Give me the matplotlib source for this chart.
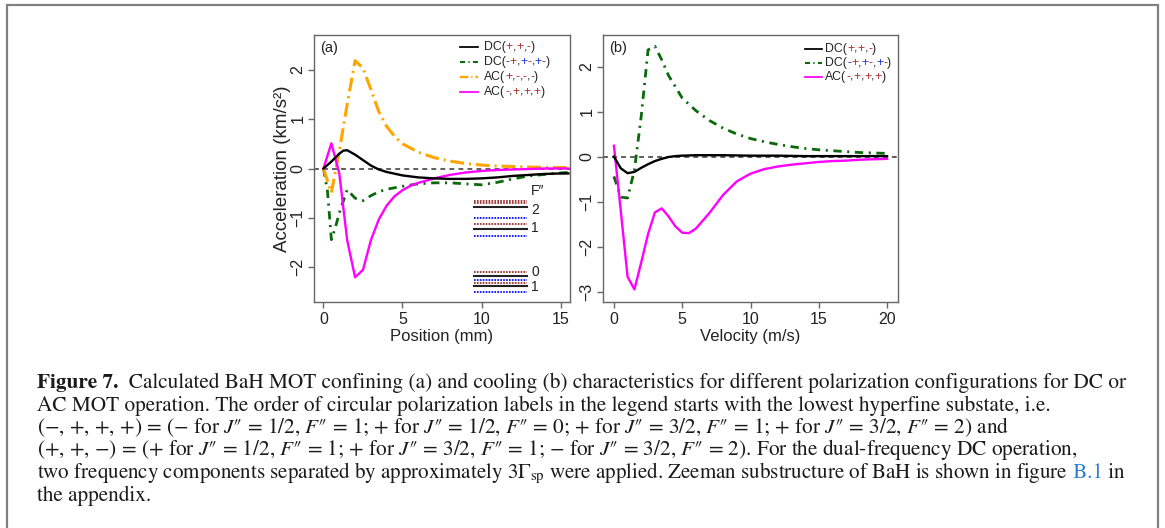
import matplotlib
matplotlib.use('Agg')
import matplotlib.pyplot as plt
from matplotlib.patches import Rectangle

# ---------------- data ----------------
# Panel (a): acceleration vs position
pos_dc1 = [0, 0.5, 1.0, 1.25, 1.5, 2, 2.5, 3, 3.5, 4, 5, 6, 7, 8, 9, 10, 11, 12, 13, 14, 15, 15.5]
acc_dc1 = [0, 0.14, 0.3, 0.36, 0.37, 0.28, 0.17, 0.06, -0.02, -0.07, -0.14, -0.18, -0.2, -0.21, -0.21, -0.2, -0.18, -0.15, -0.13, -0.11, -0.1, -0.1]

pos_dc2 = [0, 0.25, 0.5, 0.75, 1.0, 1.5, 2.0, 2.5, 3, 3.5, 4, 5, 6, 7, 8, 9, 10, 11, 12, 13, 14, 15, 15.5]
acc_dc2 = [0, -0.45, -1.44, -1.2, -0.9, -0.43, -0.6, -0.65, -0.55, -0.47, -0.42, -0.36, -0.31, -0.29, -0.29, -0.31, -0.33, -0.28, -0.21, -0.15, -0.12, -0.09, -0.08]

pos_ac1 = [0, 0.5, 1.0, 1.5, 2.0, 2.5, 3, 3.5, 4, 4.5, 5, 6, 7, 8, 9, 10, 11, 12, 13, 14, 15, 15.5]
acc_ac1 = [0, -0.49, 0.35, 1.3, 2.18, 2.03, 1.6, 1.15, 0.85, 0.65, 0.5, 0.33, 0.22, 0.15, 0.1, 0.07, 0.05, 0.04, 0.03, 0.02, 0.02, 0.02]

pos_ac2 = [0, 0.5, 1.0, 1.5, 2.0, 2.5, 3, 3.5, 4, 4.5, 5, 5.5, 6, 7, 8, 9, 10, 11, 12, 13, 14, 15, 15.5]
acc_ac2 = [0, 0.51, -0.1, -1.45, -2.2, -2.05, -1.45, -1.03, -0.75, -0.56, -0.44, -0.35, -0.29, -0.2, -0.13, -0.08, -0.05, -0.03, -0.02, -0.01, 0, 0, 0]

# Panel (b): acceleration vs velocity
vel_dc1 = [0, 0.5, 1.0, 1.5, 2, 2.5, 3, 3.5, 4, 4.5, 5, 6, 7, 8, 10, 12, 14, 16, 18, 20]
accv_dc1 = [0, -0.26, -0.37, -0.34, -0.25, -0.17, -0.1, -0.05, -0.01, 0.01, 0.02, 0.03, 0.03, 0.03, 0.02, 0.02, 0.01, 0.01, 0.01, 0.01]

vel_dc2 = [0, 0.5, 1.0, 1.5, 2, 2.5, 3, 3.5, 4, 5, 6, 7, 8, 9, 10, 11, 12, 13, 14, 15, 16, 17, 18, 19, 20]
accv_dc2 = [-0.44, -0.9, -0.92, -0.3, 0.9, 2.37, 2.45, 2.15, 1.8, 1.3, 1.02, 0.8, 0.63, 0.5, 0.4, 0.33, 0.27, 0.22, 0.18, 0.15, 0.13, 0.11, 0.09, 0.08, 0.07]

vel_ac2 = [0, 0.5, 1.0, 1.5, 2, 2.5, 3, 3.5, 4, 4.5, 5, 5.5, 6, 7, 8, 9, 10, 11, 12, 13, 14, 15, 16, 17, 18, 19, 20]
accv_ac2 = [0.24, -1.2, -2.67, -2.95, -2.35, -1.72, -1.24, -1.15, -1.33, -1.55, -1.69, -1.7, -1.6, -1.25, -0.85, -0.55, -0.38, -0.28, -0.22, -0.18, -0.15, -0.12, -0.1, -0.09, -0.07, -0.06, -0.05]

# Hyperfine / Zeeman level sketch (inset of panel a)
level_y = [-0.66, -0.70, -0.775, -1.0, -1.13, -1.22, -1.36,
           -2.09, -2.18, -2.25, -2.31, -2.38, -2.50]
level_kind = ['r', 'r', 'k', 'b', 'r', 'k', 'b',
              'r', 'k', 'b', 'r', 'k', 'b']
level_labels = ["F\u2033", '2', '1', '0', '1']
level_label_y = [-0.445, -0.83, -1.2, -2.1, -2.4]

xticks_a = [0, 5, 10, 15]
yticks_a = [-2, -1, 0, 1, 2]
xticks_b = [0, 5, 10, 15, 20]
yticks_b = [-3, -2, -1, 0, 1, 2]

legend_a = [
    ('k', [('DC(', 'k'), ('+', 'r'), (',', 'k'), ('+', 'r'), (',', 'k'), ('-', 'r'), (')', 'k')]),
    ('g', [('DC(', 'k'), ('-', 'b'), ('+', 'r'), (',', 'k'), ('+', 'b'), ('-', 'r'), (',', 'k'), ('+', 'b'), ('-', 'r'), (')', 'k')]),
    ('o', [('AC(', 'k'), ('+', 'r'), (',', 'k'), ('-', 'r'), (',', 'k'), ('-', 'r'), (',', 'k'), ('-', 'r'), (')', 'k')]),
    ('m', [('AC(', 'k'), ('-', 'r'), (',', 'k'), ('+', 'r'), (',', 'k'), ('+', 'r'), (',', 'k'), ('+', 'r'), (')', 'k')]),
]
legend_b = [legend_a[0], legend_a[1], legend_a[3]]

# ---------------- styles ----------------
plt.rcParams['font.family'] = ['Liberation Sans', 'DejaVu Sans']
plt.rcParams['lines.scale_dashes'] = False

W, H = 1165, 528
C_RED = '#b03030'
C_BLUE = '#2233dd'
C_LVL_R = '#9a3b3b'
TXT = {'k': '#222222', 'r': C_RED, 'b': C_BLUE}
STY = {
    'k': dict(color='black', lw=1.7, ls='-'),
    'g': dict(color='#0a6a0a', lw=2.0, dashes=(6, 4, 1.5, 4)),
    'o': dict(color='#ffa500', lw=2.2, dashes=(10, 3.5, 1.5, 3.5)),
    'm': dict(color='#ff00ff', lw=1.7, ls='-'),
}
SPINE = '#666666'

fig = plt.figure(figsize=(W / 100, H / 100), dpi=100)

# outer frame
fig.patches.append(Rectangle((7 / W, -0.02), (1158 - 7) / W, 1 - 4.5 / H + 0.02,
                             transform=fig.transFigure, fill=False,
                             edgecolor='#808080', lw=1.6))

ax_a = fig.add_axes([314 / W, 1 - 302 / H, 256 / W, 267 / H])
ax_b = fig.add_axes([603 / W, 1 - 302 / H, 295 / W, 267 / H])


def style_axes(ax):
    for s in ax.spines.values():
        s.set_color(SPINE)
        s.set_linewidth(1.0)
    ax.tick_params(direction='out', length=4.5, width=1.0, color=SPINE,
                   labelsize=11.5, pad=3, labelcolor='#222222')
    ax.tick_params(axis='y', labelrotation=90, pad=1.5)
    for lab in ax.get_yticklabels():
        lab.set_va('center')


def zero_line(ax):
    ax.axhline(0, color='#333333', lw=1.1, dashes=(3.5, 3.0), zorder=1)


def rainbow(ax, x, y, parts, fs=8.8):
    t = ax.text(x, y, parts[0][0], color=TXT[parts[0][1]], transform=ax.transAxes,
                fontsize=fs, va='center', ha='left')
    for s, c in parts[1:]:
        t = ax.annotate(s, xy=(1, 0), xycoords=t, va='bottom', ha='left',
                        color=TXT[c], fontsize=fs)


def legend(ax, entries, x0, x1, xt, ys):
    for (key, parts), y in zip(entries, ys):
        st = dict(STY[key])
        st['lw'] = st['lw'] * 0.75
        if 'dashes' in st:
            st['dashes'] = tuple(d * 0.6 for d in st['dashes'])
        ax.plot([x0, x1], [y, y], transform=ax.transAxes, clip_on=False, **st)
        rainbow(ax, xt, y, parts)


# ----- panel a -----
zero_line(ax_a)
ax_a.plot(pos_dc2, acc_dc2, **STY['g'])
ax_a.plot(pos_ac1, acc_ac1, **STY['o'])
ax_a.plot(pos_ac2, acc_ac2, **STY['m'])
ax_a.plot(pos_dc1, acc_dc1, **STY['k'])
ax_a.set_xlim(-0.6, 15.6)
ax_a.set_ylim(-2.7, 2.7)
ax_a.set_xticks(xticks_a)
ax_a.set_yticks(yticks_a)
style_axes(ax_a)
ax_a.set_xlabel('Position (mm)', fontsize=12, labelpad=1, color='#222222')
ax_a.set_ylabel('Acceleration (km/s²)', fontsize=13.5, labelpad=0, color='#222222')
ax_a.text(0.024, 0.953, '(a)', transform=ax_a.transAxes, fontsize=10.5, va='center', ha='left',
          color='#222222')

lvl_x0, lvl_x1 = 9.54, 12.9
for yv, kind in zip(level_y, level_kind):
    if kind == 'k':
        ax_a.plot([lvl_x0, lvl_x1], [yv, yv], color='#222222', lw=1.5)
    elif kind == 'r':
        ax_a.plot([lvl_x0, lvl_x1], [yv, yv], color=C_LVL_R, lw=1.4, dashes=(1.2, 0.9))
    else:
        ax_a.plot([lvl_x0, lvl_x1], [yv, yv], color='#1a1aff', lw=1.4, dashes=(1.2, 0.9))
for lab, yv in zip(level_labels, level_label_y):
    ax_a.text(13.15, yv, lab, fontsize=10, va='center', ha='left', color='#222222')

legend(ax_a, legend_a, 0.570, 0.641, 0.664, [0.955, 0.899, 0.843, 0.787])

# ----- panel b -----
zero_line(ax_b)
ax_b.plot(vel_dc2, accv_dc2, **STY['g'])
ax_b.plot(vel_ac2, accv_ac2, **STY['m'])
ax_b.plot(vel_dc1, accv_dc1, **STY['k'])
ax_b.set_xlim(-0.8, 20.8)
ax_b.set_ylim(-3.23, 2.70)
ax_b.set_xticks(xticks_b)
ax_b.set_yticks(yticks_b)
style_axes(ax_b)
ax_b.set_xlabel('Velocity (m/s)', fontsize=12, labelpad=1, color='#222222')
ax_b.text(0.022, 0.950, '(b)', transform=ax_b.transAxes, fontsize=10.5, va='center', ha='left',
          color='#222222')
legend(ax_b, legend_b, 0.685, 0.742, 0.753, [0.948, 0.895, 0.843])

# ----- caption -----
cap_kw = dict(family='STIXGeneral', math_fontfamily='stix', color='#1a1a1a')
J = r'$J$″'
F = r'$F$″'
line1_rest = ('  Calculated BaH MOT confining (a) and cooling (b) characteristics for '
              'different polarization configurations for DC or')
line2 = ('AC MOT operation. The order of circular polarization labels in the legend '
         'starts with the lowest hyperfine substate, i.e.')
line3 = ('(−, +, +, +) = (− for ' + J + ' = 1/2, ' + F + ' = 1; + for ' + J +
         ' = 1/2, ' + F + ' = 0; + for ' + J + ' = 3/2, ' + F + ' = 1; + for ' +
         J + ' = 3/2, ' + F + ' = 2) and')
line4 = ('(+, +, −) = (+ for ' + J + ' = 1/2, ' + F + ' = 1; + for ' + J +
         ' = 3/2, ' + F + ' = 1; − for ' + J + ' = 3/2, ' + F +
         ' = 2). For the dual-frequency DC operation,')
line5a = r'two frequency components separated by approximately 3$\Gamma_{\rm sp}$ were applied. Zeeman substructure of BaH is shown in figure'
line5b = ' B.1'
line5c = ' in'
line6 = 'the appendix.'

x_cap = 37 / W
base = [388, 410.5, 433, 455.5, 478, 500.5]

fs = 12.0
t1 = fig.text(x_cap, 1 - base[0] / H, 'Figure 7.', fontweight='bold', fontsize=fs,
              va='baseline', ha='left', **cap_kw)
t1b = fig.text(0, 0, line1_rest, fontsize=fs, va='baseline', ha='left', **cap_kw)
fig.canvas.draw()
r = fig.canvas.get_renderer()
w = t1.get_window_extent(r).width + t1b.get_window_extent(r).width
fs = fs * (1124 - 37) / w
t1.set_fontsize(fs)
t1b.set_fontsize(fs)
fig.canvas.draw()
t1b.set_position((x_cap + t1.get_window_extent(r).width / W, 1 - base[0] / H))

for txt, b in [(line2, base[1]), (line3, base[2]), (line4, base[3]), (line6, base[5])]:
    fig.text(x_cap, 1 - b / H, txt, fontsize=fs, va='baseline', ha='left', **cap_kw)

t5 = fig.text(x_cap, 1 - base[4] / H, line5a, fontsize=fs * 0.99, va='baseline', ha='left', **cap_kw)
fig.canvas.draw()
x5 = x_cap + t5.get_window_extent(r).width / W
t5b = fig.text(x5, 1 - base[4] / H, line5b, fontsize=fs * 0.99, va='baseline', ha='left',
               family='STIXGeneral', color='#2a7fd4')
fig.canvas.draw()
x5c = x5 + t5b.get_window_extent(r).width / W
fig.text(x5c, 1 - base[4] / H, line5c, fontsize=fs * 0.99, va='baseline', ha='left', **cap_kw)

fig.savefig('out.png', dpi=100)
